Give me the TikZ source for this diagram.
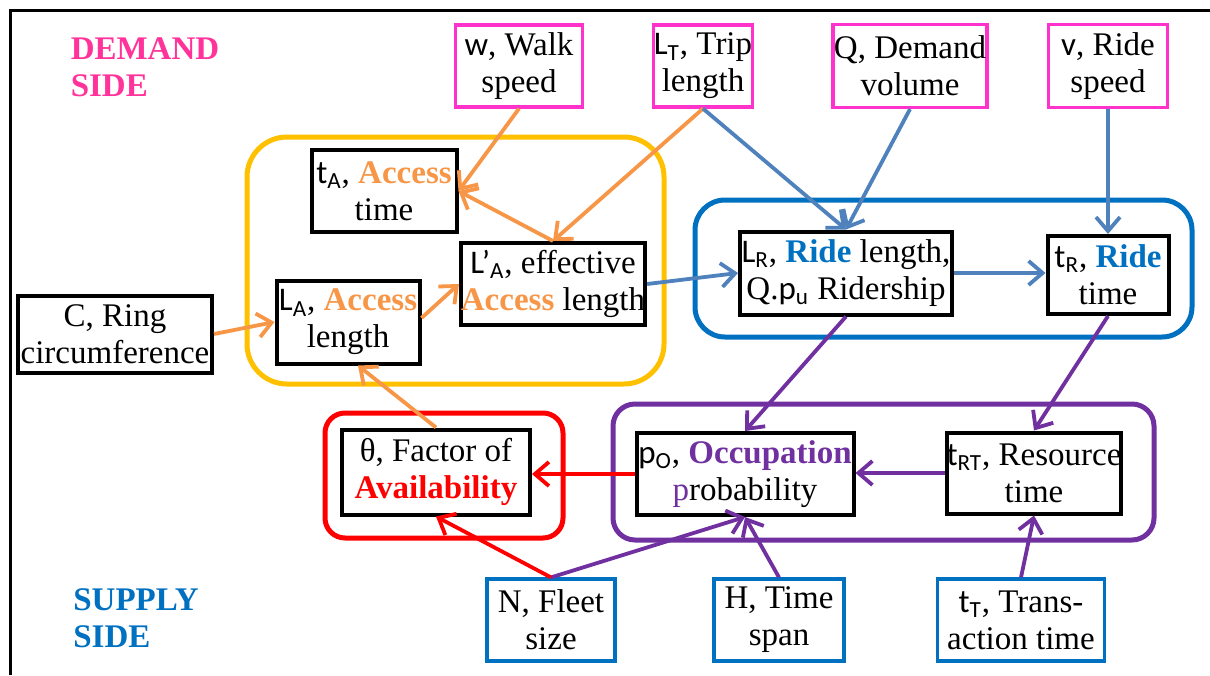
\documentclass[tikz,border=0pt]{standalone}
\usepackage{fontspec}
\setmainfont{Liberation Serif}
\newfontfamily\calib{Carlito}
\usepackage{tikz}
\usetikzlibrary{positioning,arrows.meta,calc}

\definecolor{demandpink}{HTML}{FF3399}
\definecolor{boxpink}{HTML}{FF33CC}
\definecolor{supplyblue}{HTML}{0070C0}
\definecolor{accorange}{HTML}{F79646}
\definecolor{ridearrow}{HTML}{4F81BD}
\definecolor{occpurple}{HTML}{7030A0}
\definecolor{grpyellow}{HTML}{FFC000}

\newcommand{\vsym}[2]{{\calib #1\textsubscript{#2}}}

\begin{document}
\begin{tikzpicture}[x=0.5pt, y=-0.5pt,
  font=\fontsize{16.5}{18.5}\selectfont,
  var/.style={draw, align=center, inner sep=0pt, line width=1.6pt},
  demand/.style={var, draw=boxpink},
  supply/.style={var, draw=supplyblue},
  inner/.style={var, draw=black, line width=2pt},
  group/.style={line width=2.5pt, rounded corners=#1},
  side/.style={align=left, font=\fontsize{16.5}{18.5}\selectfont\bfseries},
  link/.style={line width=1.9pt, -{Straight Barb[length=7pt, width=12pt, line width=1.9pt]}}
]
  \useasboundingbox (0,0) rectangle (1210,675);
  \draw[line width=1.5pt] (10,675) -- (10,10) -- (1210,10);

  % groups
  \draw[group=20pt, grpyellow]  (247,137) rectangle (664,384);
  \draw[group=15pt, supplyblue] (695,200) rectangle (1192,337);
  \draw[group=10pt, red]        (325,413) rectangle (563,538);
  \draw[group=11pt, occpurple]  (613,404) rectangle (1154,540);

  \node[side, text=demandpink] (dside) at (145,67)  {DEMAND\\SIDE};
  \node[side, text=supplyblue] (sside) at (136,618) {SUPPLY\\SIDE};

  % demand side inputs
  \node[demand, minimum width=63.5pt, minimum height=41pt] (w)  at (519,66)  {{\calib w}, Walk\\speed};
  \node[demand, minimum width=48.5pt, minimum height=41pt] (LT) at (703,66)  {\vsym{L}{T}, Trip\\length};
  \node[demand, minimum width=77pt, minimum height=41.5pt] (Q)  at (910,66)  {Q, Demand\\volume};
  \node[demand, minimum width=59.5pt, minimum height=41.5pt] (v) at (1108,66) {{\calib v}, Ride\\speed};

  % access
  \node[inner, minimum width=72.5pt, minimum height=41pt] (tA)  at (384,191) {\vsym{t}{A}, \textbf{\color{accorange}Access}\\time};
  \node[inner, minimum width=92pt, minimum height=41pt]   (LpA) at (553,284) {{\calib L’\textsubscript{A}}, effective\\\textbf{\color{accorange}Access} length};
  \node[inner, minimum width=71.5pt, minimum height=41.5pt] (LA) at (348,322) {\vsym{L}{A}, \textbf{\color{accorange}Access}\\length};
  \node[inner, minimum width=97pt, minimum height=38.5pt] (C)   at (115,334) {C, Ring\\circumference};

  % ride
  \node[inner, minimum width=106pt, minimum height=41.5pt] (LR) at (846,273)  {\vsym{L}{R}, \textbf{\color{supplyblue}Ride} length,\\Q.{\calib p\textsubscript{u}} Ridership};
  \node[inner, minimum width=60.5pt, minimum height=39pt]  (tR) at (1108,275) {\vsym{t}{R}, \textbf{\color{supplyblue}Ride}\\time};

  % availability and occupation
  \node[inner, minimum width=94pt, minimum height=42.5pt]  (theta) at (436,472) {θ, Factor of\\\textbf{\color{red}Availability}};
  \node[inner, minimum width=108.5pt, minimum height=41pt] (pO)    at (745,474) {\vsym{p}{O}, \textbf{\color{occpurple}Occupation}\\{\color{occpurple}p}robability};
  \node[inner, minimum width=83.5pt, minimum height=40.5pt] (tRT)  at (1034,473) {\vsym{t}{RT}, Resource\\time};

  % supply side inputs
  \node[supply, minimum width=64pt, minimum height=41pt]   (N)  at (551,620)  {N, Fleet\\size};
  \node[supply, minimum width=65pt, minimum height=41pt]   (H)  at (779,620)  {H, Time\\span};
  \node[supply, minimum width=83.5pt, minimum height=41pt] (tT) at (1021,620) {\vsym{t}{T}, Trans-\\action time};

  % orange links
  \draw[link, accorange] (w.south) -- (tA.east);
  \draw[link, accorange] (LpA.north) -- (tA.east);
  \draw[link, accorange] (LT.south) -- (LpA.north);
  \draw[link, accorange] (C.east) -- (LA.west);
  \draw[link, accorange] ($(LA.east)+(0,-4)$) -- (LpA.west);
  \draw[link, accorange] (theta.north) -- ($(LA.south)+(10,0)$);

  % blue links
  \draw[link, ridearrow] (LT.south) -- (LR.north);
  \draw[link, ridearrow] (Q.south) -- (LR.north);
  \draw[link, ridearrow] (v.south) -- (tR.north);
  \draw[link, ridearrow] (LpA.east) -- (LR.west);
  \draw[link, ridearrow] (LR.east) -- (LR.east -| tR.west);

  % purple links
  \draw[link, occpurple] (LR.south) -- (pO.north);
  \draw[link, occpurple] (tR.south) -- (tRT.north);
  \draw[link, occpurple] (tRT.west) -- (tRT.west -| pO.east);
  \draw[link, occpurple] (N.north) -- (pO.south);
  \draw[link, occpurple] (H.north) -- (pO.south);
  \draw[link, occpurple] (tT.north) -- (tRT.south);

  % red links
  \draw[link, red] (pO.west) -- (pO.west -| theta.east);
  \draw[link, red] (N.north) -- (theta.south);
\end{tikzpicture}
\end{document}
